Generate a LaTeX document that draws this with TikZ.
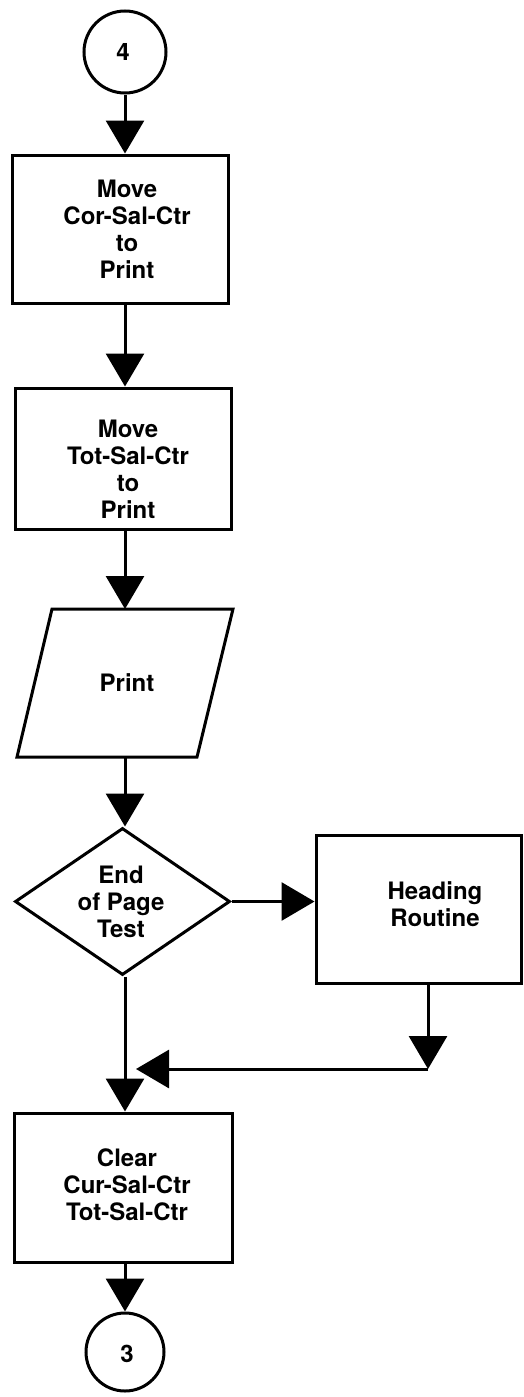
\documentclass[tikz,border=0pt]{standalone}
\usepackage{fontspec}
\setmainfont{TeX Gyre Heros}
\usetikzlibrary{arrows.meta,shapes.geometric}
\begin{document}
\begin{tikzpicture}[x=1pt,y=-1pt, line width=3pt, line join=miter,
  box/.style={draw, rectangle, inner sep=0pt},
  lbl/.style={font=\fontsize{24}{27}\selectfont\bfseries, align=center, inner sep=0pt},
  conn/.style={circle, draw, inner sep=0pt},
  arr/.style={-{Triangle[width=38pt,length=33pt]}}]
\useasboundingbox (0,0) rectangle (524,1397);
% connectors (circles)
\node[conn, minimum size=82pt] (c4) at (125,52) {};
\node[lbl] (t4) at (123,52) {4};
\node[conn, minimum size=78pt] (c3) at (125,1352) {};
\node[lbl] (t3) at (127,1354) {3};
% process boxes
\node[box, minimum width=216pt, minimum height=148pt] (b1) at (120,229) {};
\node[lbl] (tb1) at (127,229) {Move\\Cor-Sal-Ctr\\to\\Print};
\node[box, minimum width=216pt, minimum height=141pt] (b2) at (123,458.5) {};
\node[lbl] (tb2) at (128,469) {Move\\Tot-Sal-Ctr\\to\\Print};
% parallelogram
\coordinate (pa) at (52,609);
\coordinate (pb) at (233,609);
\coordinate (pc) at (197,757);
\coordinate (pd) at (17,757);
\draw (pa) -- (pb) -- (pc) -- (pd) -- cycle;
\coordinate (ptop) at (125,609);
\coordinate (pbot) at (125,757);
\node[lbl] (tp) at (127,683) {Print};
% decision
\node[draw, diamond, inner sep=0pt, minimum width=215pt, minimum height=147pt] (d) at (122.5,901.5) {};
\node[lbl] (td) at (121,902) {End\\of Page\\Test};
% heading routine
\node[box, minimum width=205pt, minimum height=148pt] (hd) at (418.5,909) {};
\node[lbl] (th) at (435,904) {Heading\\Routine};
% clear box
\node[box, minimum width=218pt, minimum height=149pt] (cl) at (123,1187.5) {};
\node[lbl] (tc) at (127,1185) {Clear\\Cur-Sal-Ctr\\Tot-Sal-Ctr};
% join coordinates
\coordinate (j) at (428,1069);
\coordinate (m) at (136,1069);
% flow
\draw[arr] (c4.south) -- (c4.south |- b1.north);
\draw[arr] (b1.south -| c4) -- (c4 |- b2.north);
\draw[arr] (b2.south -| c4) -- (ptop);
\draw[arr] (pbot) -- (pbot |- d.north);
\draw[arr] (d.east) -- (d.east -| hd.west);
\draw[arr] (j |- hd.south) -- (j);
\draw[arr] (j) -- (m);
\draw[arr] (pbot |- d.south) -- (pbot |- cl.north);
\draw[arr] (cl.south -| c3) -- (c3.north);
\end{tikzpicture}
\end{document}
